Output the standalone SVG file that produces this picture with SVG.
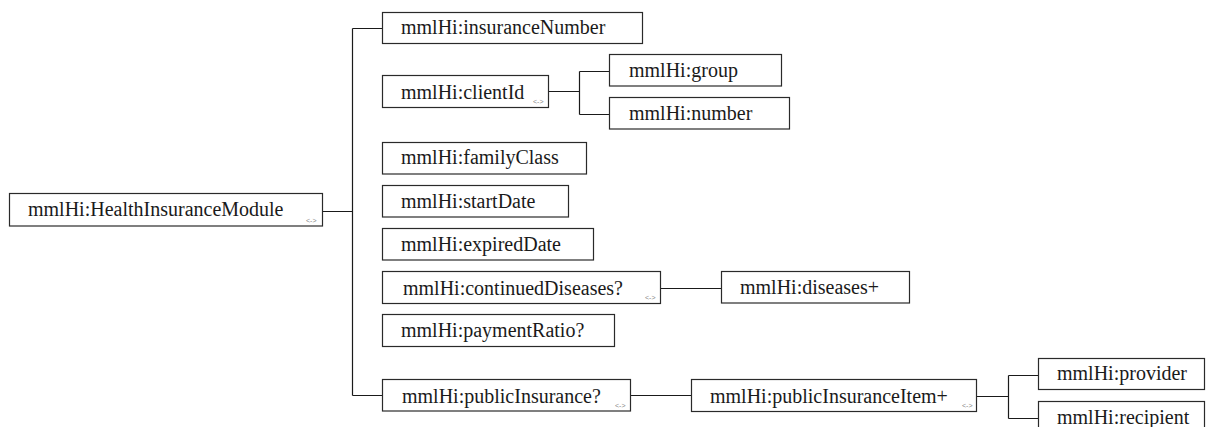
<svg xmlns="http://www.w3.org/2000/svg" width="1208" height="427" viewBox="0 0 1208 427">
<style>
.box{fill:#fff;stroke:#2a2a2a;stroke-width:1.2}
.lbl{font-family:"Liberation Serif","DejaVu Serif","Times New Roman",serif;font-size:20px;fill:#1a1a1a}
.ico{font-family:"Liberation Sans",Arial,sans-serif;font-size:7px;fill:#888}
.con{fill:none;stroke:#1a1a1a;stroke-width:1.2}
</style>
<rect width="1208" height="427" fill="#fff"/>
<g id="connectors">
<path class="con" d="M323,211.5H352.5M352.5,28.5V395.5M352.5,28.5H382M352.5,395.5H382"/>
<path class="con" d="M549,91.5H579.5M579.5,71.5V114.5M579.5,71.5H609M579.5,114.5H609"/>
<path class="con" d="M661,288.5H721"/>
<path class="con" d="M631,395.5H691"/>
<path class="con" d="M977,396.5H1008.5M1008.5,375.5V418.5M1008.5,375.5H1038M1008.5,418.5H1038"/>
</g>
<g id="root"><rect class="box" x="9.5" y="193.5" width="313" height="32.5"/><text class="lbl" x="28" y="216">mmlHi:HealthInsuranceModule</text><text class="ico" x="306" y="223">&lt;-&gt;</text></g>
<g id="insuranceNumber"><rect class="box" x="382.5" y="12.5" width="260" height="31"/><text class="lbl" x="401" y="34">mmlHi:insuranceNumber</text></g>
<g id="clientId"><rect class="box" x="382.5" y="75.5" width="166" height="32"/><text class="lbl" x="401" y="99">mmlHi:clientId</text><text class="ico" x="533" y="104">&lt;-&gt;</text></g>
<g id="group"><rect class="box" x="609.5" y="54.5" width="172" height="31.5"/><text class="lbl" x="629" y="77">mmlHi:group</text></g>
<g id="number"><rect class="box" x="609.5" y="97.5" width="180" height="31.5"/><text class="lbl" x="629" y="120">mmlHi:number</text></g>
<g id="familyClass"><rect class="box" x="382.5" y="142.5" width="204" height="31.5"/><text class="lbl" x="401" y="164">mmlHi:familyClass</text></g>
<g id="startDate"><rect class="box" x="382.5" y="185.5" width="186" height="31.5"/><text class="lbl" x="401" y="208">mmlHi:startDate</text></g>
<g id="expiredDate"><rect class="box" x="382.5" y="228.5" width="211" height="31.5"/><text class="lbl" x="401" y="251">mmlHi:expiredDate</text></g>
<g id="continuedDiseases"><rect class="box" x="382.5" y="271.5" width="278" height="32"/><text class="lbl" x="403" y="295">mmlHi:continuedDiseases?</text><text class="ico" x="645" y="300">&lt;-&gt;</text></g>
<g id="diseases"><rect class="box" x="721.5" y="271.5" width="188" height="31.5"/><text class="lbl" x="740" y="294">mmlHi:diseases+</text></g>
<g id="paymentRatio"><rect class="box" x="382.5" y="314.5" width="232" height="32"/><text class="lbl" x="401" y="337">mmlHi:paymentRatio?</text></g>
<g id="publicInsurance"><rect class="box" x="382.5" y="379.5" width="248" height="31.5"/><text class="lbl" x="402" y="403">mmlHi:publicInsurance?</text><text class="ico" x="615" y="408">&lt;-&gt;</text></g>
<g id="publicInsuranceItem"><rect class="box" x="691.5" y="379.5" width="285" height="32"/><text class="lbl" x="710" y="403">mmlHi:publicInsuranceItem+</text><text class="ico" x="962" y="408">&lt;-&gt;</text></g>
<g id="provider"><rect class="box" x="1038.5" y="358.5" width="166" height="31"/><text class="lbl" x="1057" y="380">mmlHi:provider</text></g>
<g id="recipient"><rect class="box" x="1038.5" y="401.5" width="166" height="31"/><text class="lbl" x="1057" y="424">mmlHi:recipient</text></g>
</svg>
